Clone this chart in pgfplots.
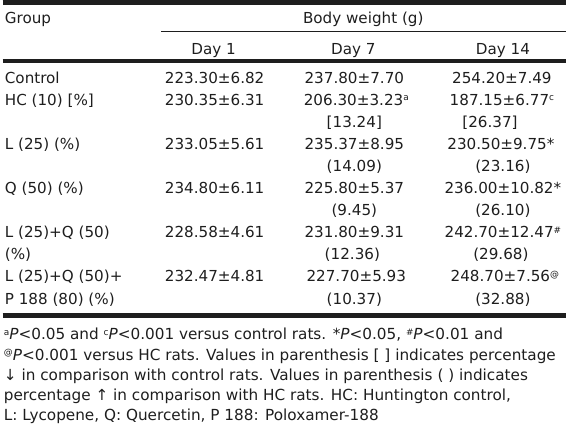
\documentclass[border=0pt]{standalone}
\usepackage{pgfplots}
\pgfplotsset{compat=1.18}
\usepackage{fontspec}
\setmainfont{DejaVu Sans}
\definecolor{txt}{HTML}{1E1E1E}
\definecolor{rule}{HTML}{1E1E1E}
\newcommand{\sps}[1]{\raisebox{0.55ex}{\fontsize{9}{10}\selectfont #1}}
\begin{document}
\begin{tikzpicture}
\tikzset{
  c/.style={anchor=base,inner sep=0pt,text=txt,font=\fontsize{15.3}{18}\selectfont},
  l/.style={anchor=base west,inner sep=0pt,text=txt,font=\fontsize{15.3}{18}\selectfont},
  f/.style={anchor=base west,inner sep=0pt,text=txt,font=\fontsize{15.4}{18}\selectfont},
}
\begin{axis}[width=569pt,height=436pt,scale only axis,
  xmin=0,xmax=569,ymin=0,ymax=436,y dir=reverse,hide axis,clip=false]
\path (axis cs:0,0) rectangle (axis cs:569,436);
% rules
\draw[rule,line width=5pt] (axis cs:0,2.5) -- (axis cs:569,2.5);
\draw[rule,line width=1pt] (axis cs:160,32) -- (axis cs:569,32);
\draw[rule,line width=4.5pt] (axis cs:0,61.8) -- (axis cs:569,61.8);
\draw[rule,line width=5.5pt] (axis cs:0,318.5) -- (axis cs:569,318.5);
% header
\node[l] at (axis cs:2,24) {Group};
\node[c] at (axis cs:364,24) {Body weight (g)};
\node[c] at (axis cs:213,55) {Day 1};
\node[c] at (axis cs:354,55) {Day 7};
\node[c] at (axis cs:505,55) {Day 14};
% group labels
\node[l] at (axis cs:2,84) {Control};
\node[l] at (axis cs:2,106.3) {HC (10) [\%]};
\node[l] at (axis cs:2,150.9) {L (25) (\%)};
\node[l] at (axis cs:2,195.5) {Q (50) (\%)};
\node[l] at (axis cs:2,240.1) {L (25)+Q (50)};
\node[l] at (axis cs:2,262.4) {(\%)};
\node[l] at (axis cs:2,284.7) {L (25)+Q (50)+};
\node[l] at (axis cs:2,307) {P 188 (80) (\%)};
% Day 1
\node[c] at (axis cs:214,84) {223.30±6.82};
\node[c] at (axis cs:214,106.3) {230.35±6.31};
\node[c] at (axis cs:214,150.9) {233.05±5.61};
\node[c] at (axis cs:214,195.5) {234.80±6.11};
\node[c] at (axis cs:214,240.1) {228.58±4.61};
\node[c] at (axis cs:214,284.7) {232.47±4.81};
% Day 7
\node[c] at (axis cs:355,84) {237.80±7.70};
\node[c] at (axis cs:357,106.3) {206.30±3.23\sps{a}};
\node[c] at (axis cs:355,128.6) {[13.24]};
\node[c] at (axis cs:355,150.9) {235.37±8.95};
\node[c] at (axis cs:355,173.2) {(14.09)};
\node[c] at (axis cs:355,195.5) {225.80±5.37};
\node[c] at (axis cs:355,217.8) {(9.45)};
\node[c] at (axis cs:355,240.1) {231.80±9.31};
\node[c] at (axis cs:353,262.4) {(12.36)};
\node[c] at (axis cs:357,284.7) {227.70±5.93};
\node[c] at (axis cs:355,307) {(10.37)};
% Day 14
\node[c] at (axis cs:504,84) {254.20±7.49};
\node[c] at (axis cs:504,106.3) {187.15±6.77\sps{c}};
\node[c] at (axis cs:492,128.6) {[26.37]};
\node[c] at (axis cs:503,150.9) {230.50±9.75*};
\node[c] at (axis cs:505,173.2) {(23.16)};
\node[c] at (axis cs:505,195.5) {236.00±10.82*};
\node[c] at (axis cs:505,217.8) {(26.10)};
\node[c] at (axis cs:505,240.1) {242.70±12.47\sps{\#}};
\node[c] at (axis cs:503,262.4) {(29.68)};
\node[c] at (axis cs:507,284.7) {248.70±7.56\sps{@}};
\node[c] at (axis cs:505,307) {(32.88)};
% footnotes
\node[f] at (axis cs:1,343) {\sps{a}\textit{P}<0.05 and \sps{c}\textit{P}<0.001 versus control rats. *\textit{P}<0.05, \sps{\#}\textit{P}<0.01 and};
\node[f] at (axis cs:1,364) {\sps{@}\textit{P}<0.001 versus HC rats. Values in parenthesis [ ] indicates percentage};
\node[f] at (axis cs:1,384.5) {↓ in comparison with control rats. Values in parenthesis ( ) indicates};
\node[f] at (axis cs:1,404.5) {percentage ↑ in comparison with HC rats. HC: Huntington control,};
\node[f] at (axis cs:1,425) {L: Lycopene, Q: Quercetin, P 188: Poloxamer-188};
\end{axis}
\end{tikzpicture}
\end{document}
